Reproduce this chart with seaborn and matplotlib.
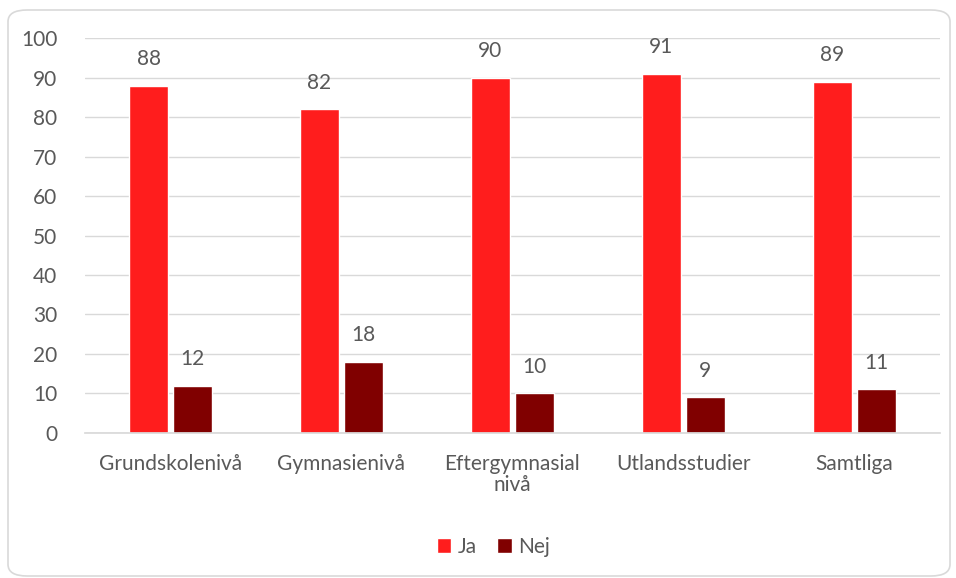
import matplotlib
matplotlib.use("Agg")
import matplotlib.pyplot as plt
import seaborn as sns
import pandas as pd
from matplotlib.patches import FancyBboxPatch, Patch

categories = ["Grundskolenivå", "Gymnasienivå", "Eftergymnasial\nnivå", "Utlandsstudier", "Samtliga"]
ja_values = [88, 82, 90, 91, 89]
nej_values = [12, 18, 10, 9, 11]
series = ["Ja", "Nej"]
colors = ["#FF1D1D", "#800000"]
yticks = [0, 10, 20, 30, 40, 50, 60, 70, 80, 90, 100]

df = pd.DataFrame({
    "Kategori": categories * 2,
    "Serie": ["Ja"] * len(categories) + ["Nej"] * len(categories),
    "Värde": ja_values + nej_values,
})

sns.set_theme(style="white")
plt.rcParams["font.family"] = ["Lato", "DejaVu Sans"]
txt = "#595959"
fs = 15

fig = plt.figure(figsize=(9.56, 5.78), dpi=100)
ax = fig.add_axes([0.089, 0.251, 0.894, 0.683])

border = FancyBboxPatch((8 / 956, 2 / 578), 942 / 956, 566 / 578,
                        boxstyle="round,pad=0,rounding_size=0.02",
                        transform=fig.transFigure, fill=False,
                        edgecolor="#D9D9D9", linewidth=1.2, zorder=0)
fig.patches.append(border)

sns.barplot(data=df, x="Kategori", y="Värde", hue="Serie", hue_order=series,
            palette=colors, width=0.515, gap=0.11, ax=ax, legend=False,
            saturation=1, errorbar=None)

for cont in ax.containers:
    ax.bar_label(cont, labels=[f"{int(v)}" for v in cont.datavalues],
                 padding=12, fontsize=fs, color=txt)

ax.set_ylim(0, 100)
ax.set_yticks(yticks)
ax.set_xlim(-0.5, len(categories) - 0.5)
ax.yaxis.grid(True, color="#D9D9D9", linewidth=1)
ax.set_axisbelow(True)
for s in ["top", "right", "left"]:
    ax.spines[s].set_visible(False)
ax.spines["bottom"].set_color("#D9D9D9")
ax.tick_params(axis="both", length=0, labelsize=fs, colors=txt)
ax.tick_params(axis="y", pad=20)
ax.tick_params(axis="x", pad=15)
for lbl in ax.get_xticklabels():
    lbl.set_linespacing(1.1)
ax.set_xlabel("")
ax.set_ylabel("")

handles = [Patch(facecolor=c, label=l) for c, l in zip(colors, series)]
fig.legend(handles=handles, loc="center", bbox_to_anchor=(0.516, 1 - 547 / 578),
           ncol=2, frameon=False, fontsize=fs, handlelength=0.7, handleheight=0.7,
           handletextpad=0.3, columnspacing=1.0, labelcolor=txt)

fig.savefig("out.png", dpi=100)
